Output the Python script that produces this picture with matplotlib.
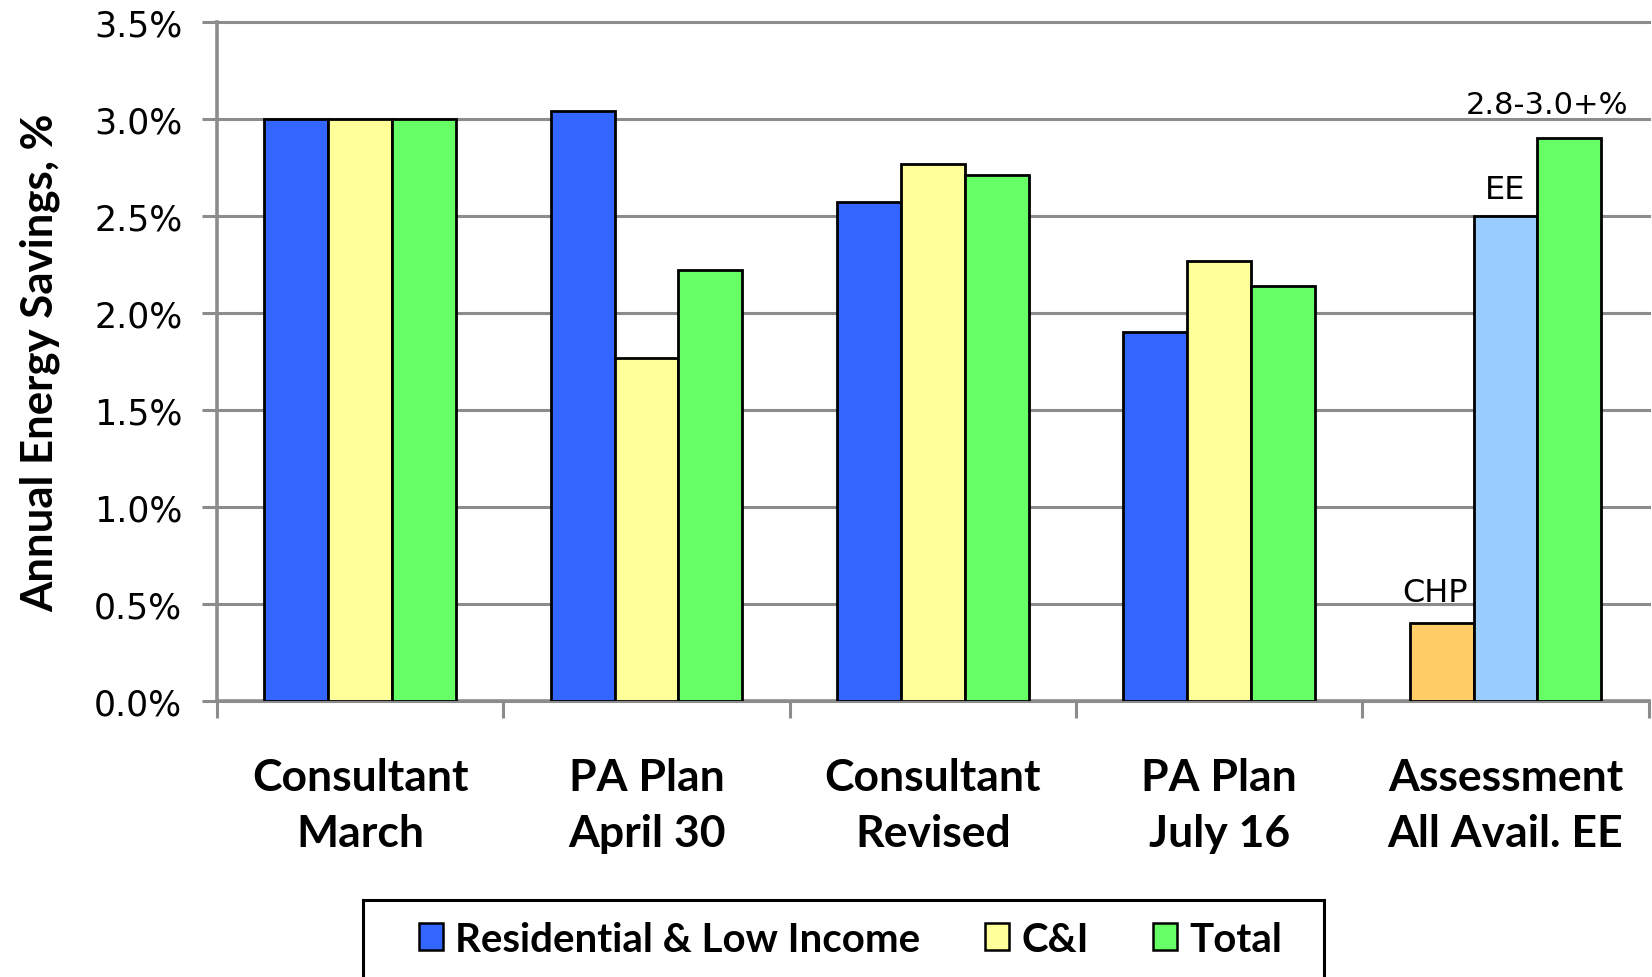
import matplotlib
matplotlib.use("Agg")
import matplotlib.pyplot as plt
from matplotlib.patches import Patch, Rectangle
import numpy as np

categories = ["Consultant\nMarch", "PA Plan\nApril 30", "Consultant\nRevised",
              "PA Plan\nJuly 16", "Assessment\nAll Avail. EE"]
series_names = ["Residential & Low Income", "C&I", "Total"]
residential = [3.00, 3.04, 2.57, 1.90, 0.40]   # last: CHP
ci = [3.00, 1.77, 2.77, 2.27, 2.50]            # last: EE
total = [3.00, 2.22, 2.71, 2.14, 2.90]
bar_annotations = ["CHP", "EE"]
range_label = "2.8-3.0+%"
yticks = [0.0, 0.5, 1.0, 1.5, 2.0, 2.5, 3.0, 3.5]

BLUE = "#3366FF"
YELLOW = "#FFFF99"
GREEN = "#66FF66"
ORANGE = "#FFCC66"
LBLUE = "#99CCFF"
GRID = "#8C8C8C"

fig = plt.figure(figsize=(16.52, 9.78), dpi=100)
ax = fig.add_axes([0.1314, 0.2822, 0.8666, 0.6943])

x = np.arange(len(categories))
w = 0.223
c1 = [BLUE] * 4 + [ORANGE]
c2 = [YELLOW] * 4 + [LBLUE]
kw = dict(edgecolor="black", linewidth=2.0, zorder=3)
ax.bar(x - w, residential, w, color=c1, **kw)
ax.bar(x, ci, w, color=c2, **kw)
ax.bar(x + w, total, w, color=GREEN, **kw)

ax.set_xlim(-0.5, len(categories) - 0.5)
ax.set_ylim(0, 3.5)
ax.set_yticks(yticks)
ax.set_yticklabels([f"{v:.1f}%" for v in yticks], fontsize=25, family="DejaVu Sans")
ax.yaxis.grid(True, color=GRID, linewidth=2.2, zorder=0)
ax.set_axisbelow(True)
for gl in ax.get_ygridlines():
    gl.set_clip_on(False)

ax.set_xticks(np.arange(-0.5, len(categories)), labels=[""] * (len(categories) + 1))
ax.set_xticks(x, labels=categories, minor=True)
ax.tick_params(axis="x", which="major", direction="out", length=12, width=2.2, color=GRID)
ax.tick_params(axis="x", which="minor", length=0, pad=40)
ax.tick_params(axis="y", direction="out", length=11, width=2.2, color=GRID, pad=14)
for lab in ax.get_xticklabels(minor=True):
    lab.set_fontfamily("Lato")
    lab.set_fontweight("bold")
    lab.set_fontsize(32)
    lab.set_linespacing(1.5)

for s in ["top", "right"]:
    ax.spines[s].set_visible(False)
for s in ["left", "bottom"]:
    ax.spines[s].set_color(GRID)
    ax.spines[s].set_linewidth(2.6)

ax.set_ylabel("Annual Energy Savings, %", fontsize=31.5, fontweight="bold",
              family="Lato", labelpad=24)

# annotations for the assessment group
i = len(categories) - 1
ax.annotate(bar_annotations[0], (x[i] - w * 1.1, residential[i]), xytext=(0, 11),
            textcoords="offset points", ha="center", va="bottom", fontsize=23)
ax.annotate(bar_annotations[1], (x[i], ci[i]), xytext=(0, 8),
            textcoords="offset points", ha="center", va="bottom", fontsize=23)
ax.annotate(range_label, (x[i] + w * 0.65, total[i]), xytext=(0, 14),
            textcoords="offset points", ha="center", va="bottom", fontsize=22)

# legend box (outline) and entries
fig.patches.append(Rectangle((0.2200, -0.05), 0.5817, 0.1287, transform=fig.transFigure,
                             facecolor="white", edgecolor="black", linewidth=2.2,
                             zorder=1))
handles = [Patch(facecolor=c, edgecolor="black", linewidth=1.8)
           for c in (BLUE, YELLOW, GREEN)]
leg = fig.legend(handles, series_names, loc="center", bbox_to_anchor=(0.515, 0.0385),
                 ncol=3, frameon=False,
                 prop={"family": "Lato", "weight": "bold", "size": 29},
                 handlelength=0.6, handleheight=0.65, handletextpad=0.3,
                 columnspacing=1.6, borderpad=0, borderaxespad=0)
leg.set_zorder(2)

fig.savefig("out.png", dpi=100)
